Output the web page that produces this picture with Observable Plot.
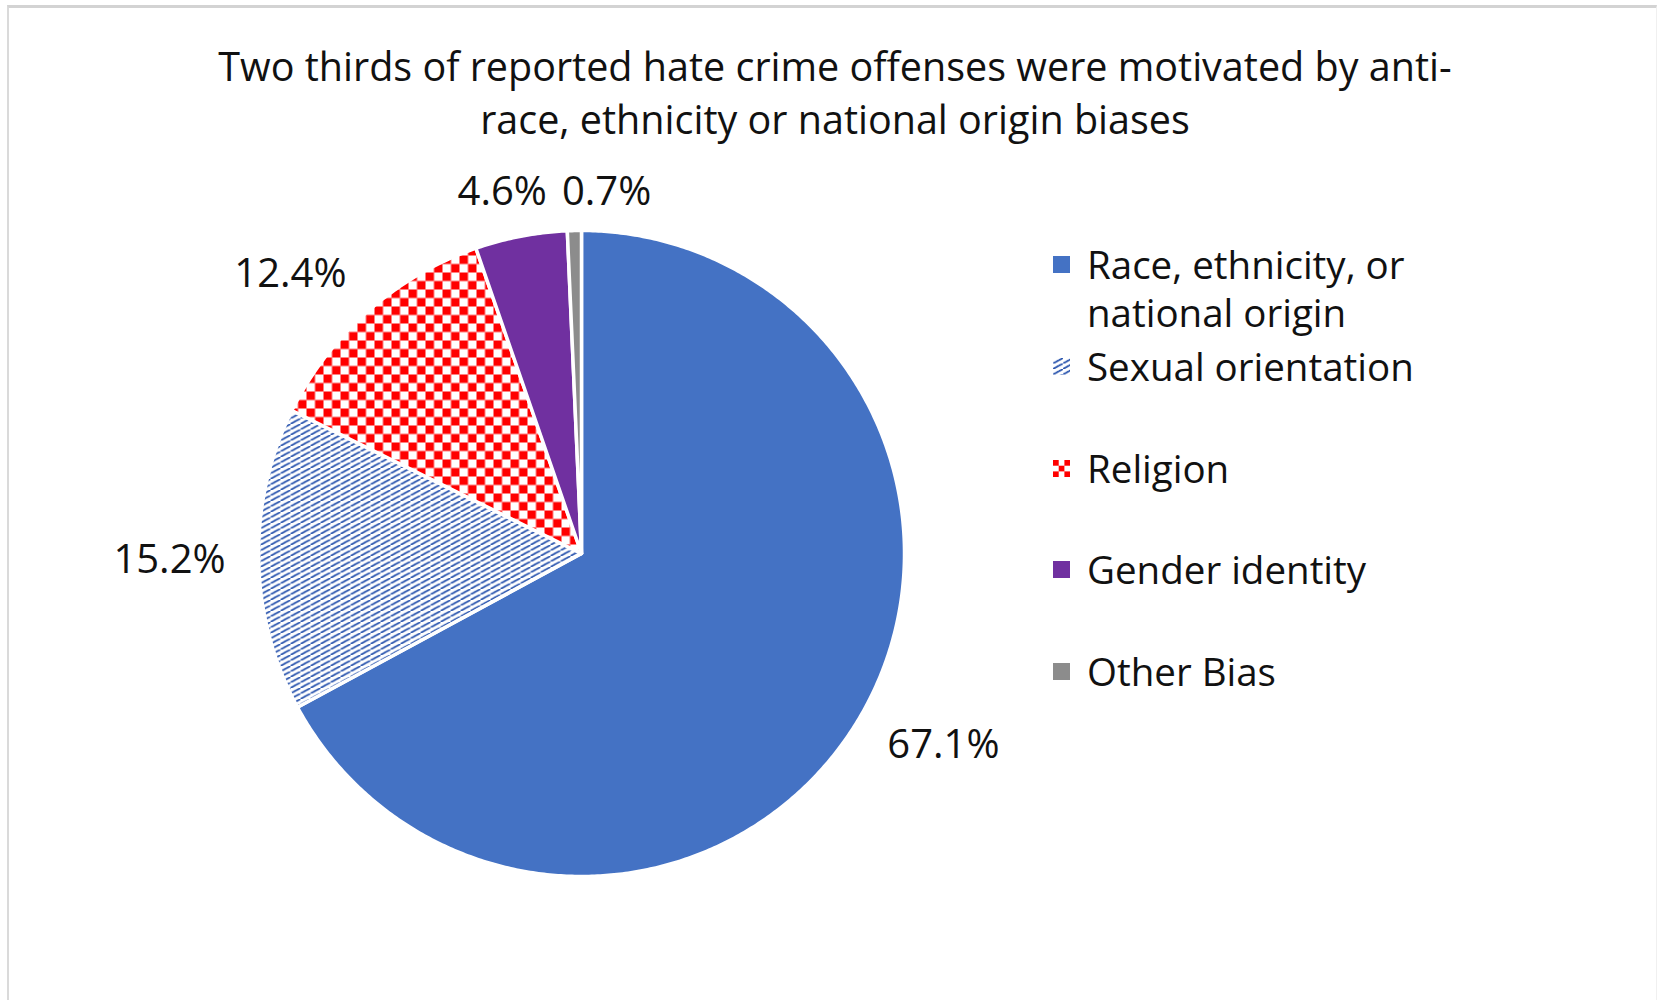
<!DOCTYPE html>
<html>
<head>
<meta charset="utf-8">
<script src="https://cdn.jsdelivr.net/npm/d3@7"></script>
<script src="https://cdn.jsdelivr.net/npm/@observablehq/plot@0.6"></script>
<style>
  html, body { margin: 0; padding: 0; background: #fff; }
  #page { position: relative; width: 1663px; height: 1000px; overflow: hidden; font-family: "Open Sans", sans-serif; color: #111; }
  #frame { position: absolute; left: 7px; top: 5px; right: 6px; bottom: -10px; border-top: 3px solid #d3d3d3; border-left: 2px solid #dadada; border-right: 1px solid #f0f0f0; }
  #title { position: absolute; left: 0; width: 1670px; top: 40px; text-align: center; font-size: 39.5px; line-height: 53px; }
  #chart { position: absolute; left: 0; top: 0; }
  .sw { position: absolute; left: 1053px; }
  .line { position: absolute; left: 1087px; font-size: 38.5px; line-height: 44px; white-space: nowrap; }
</style>
</head>
<body>
<div id="page">
  <div id="frame"></div>
  <div id="title">Two thirds of reported hate crime offenses were motivated by anti-<br>race, ethnicity or national origin biases</div>
  <div id="chart"></div>
  <div id="legend"></div>
</div>
<script>
// ---- data ----
const categories = ["Race, ethnicity, or national origin", "Sexual orientation", "Religion", "Gender identity", "Other Bias"];
const values = [67.1, 15.2, 12.4, 4.6, 0.7];
const fills = ["#4472C4", "url(#pat-sexual)", "url(#pat-religion)", "#7030A0", "#8C8C8C"];
const legendFills = ["#4472C4", "url(#pat-sexual)", "url(#pat-religion-small)", "#7030A0", "#8C8C8C"];

// ---- layout ----
const cx = 581, cy = 553, R = 323, visibleR = 321;
const labelSize = 40;
const labelFont = labelSize + "px 'Open Sans'";
const total = d3.sum(values);

// slices as planar polygons in unit coordinates (y down, start at 12 o'clock, clockwise)
let cum = 0;
const slices = values.map((v, i) => {
  const a0 = cum / total * 2 * Math.PI;
  cum += v;
  const a1 = cum / total * 2 * Math.PI;
  const n = Math.max(2, Math.ceil((a1 - a0) / (Math.PI / 360)));
  const ring = [[0, 0]];
  for (let k = 0; k <= n; k++) {
    const t = a0 + (a1 - a0) * k / n;
    ring.push([Math.sin(t), -Math.cos(t)]);
  }
  ring.push([0, 0]);
  return {
    type: "Feature",
    properties: {name: categories[i], value: v, fill: fills[i], mid: (a0 + a1) / 2},
    geometry: {type: "Polygon", coordinates: [ring]}
  };
});

// outside-end labels
const ctx = document.createElement("canvas").getContext("2d");
ctx.font = labelFont;
const gap = 35, hh = 12, pad = 15;
const clamp = v => Math.max(-1, Math.min(1, v));
const labels = slices.map(s => {
  const text = s.properties.value.toFixed(1) + "%";
  const t = s.properties.mid;
  const hw = ctx.measureText(text).width / 2;
  const px = (visibleR + gap) * Math.sin(t) + hw * clamp(1.5 * Math.sin(t));
  const py = -(visibleR + gap) * Math.cos(t) + hh * clamp(-1.5 * Math.cos(t));
  return {text, px, py, hw};
});
// simple collision avoidance: push later labels sideways onto the same row
for (let i = 1; i < labels.length; i++) {
  for (let j = 0; j < i; j++) {
    const a = labels[j], b = labels[i];
    if (Math.abs(a.py - b.py) < 40 && Math.abs(a.px - b.px) < a.hw + b.hw + pad) {
      const dir = b.px >= a.px ? 1 : -1;
      b.px = a.px + dir * (a.hw + b.hw + pad);
      b.py = a.py;
    }
  }
}
labels.forEach(l => { l.x = l.px / R; l.y = l.py / R; });

const projection = d3.geoIdentity().translate([cx, cy]).scale(R);

const plot = Plot.plot({
  width: 1663,
  height: 1000,
  margin: 0,
  projection,
  color: {type: "identity"},
  style: {background: "transparent", overflow: "visible"},
  marks: [
    Plot.geo(slices, {fill: d => d.properties.fill, stroke: "white", strokeWidth: 3.5, strokeLinejoin: "round"}),
    Plot.text(labels, {x: "x", y: "y", text: "text", fontSize: labelSize, fontFamily: "Open Sans", fill: "#111", textAnchor: "middle", lineAnchor: "middle"})
  ]
});

// patterns
const defs = d3.select(plot).insert("defs", ":first-child");
const ps = defs.append("pattern").attr("id", "pat-sexual").attr("patternUnits", "userSpaceOnUse")
  .attr("width", 10).attr("height", 5.5);
ps.append("rect").attr("width", 10).attr("height", 5.5).attr("fill", "white");
ps.append("path").attr("d", "M-10,11 L10,0 M0,5.5 L10,0 M0,5.5 L20,-5.5")
  .attr("stroke", "#2E58B0").attr("stroke-width", 1.8).attr("stroke-dasharray", "2.2,0.9").attr("fill", "none");
const pr = defs.append("pattern").attr("id", "pat-religion").attr("patternUnits", "userSpaceOnUse")
  .attr("width", 17).attr("height", 17);
pr.append("rect").attr("width", 17).attr("height", 17).attr("fill", "white");
pr.append("rect").attr("width", 8.5).attr("height", 8.5).attr("fill", "#FF0000");
pr.append("rect").attr("x", 8.5).attr("y", 8.5).attr("width", 8.5).attr("height", 8.5).attr("fill", "#FF0000");
const prs = defs.append("pattern").attr("id", "pat-religion-small").attr("patternUnits", "userSpaceOnUse")
  .attr("width", 11.4).attr("height", 11.4);
prs.append("rect").attr("width", 11.4).attr("height", 11.4).attr("fill", "white");
prs.append("rect").attr("width", 5.7).attr("height", 5.7).attr("fill", "#FF0000");
prs.append("rect").attr("x", 5.7).attr("y", 5.7).attr("width", 5.7).attr("height", 5.7).attr("fill", "#FF0000");

document.getElementById("chart").appendChild(plot);

// legend (wrapped at a max width, each line its own box)
const legendCtx = document.createElement("canvas").getContext("2d");
legendCtx.font = "38.5px 'Open Sans'";
const maxW = 345;
function wrap(text) {
  const words = text.split(" ");
  const lines = [];
  let cur = "";
  for (const w of words) {
    const test = cur ? cur + " " + w : w;
    if (cur && legendCtx.measureText(test).width > maxW) { lines.push(cur); cur = w; }
    else cur = test;
  }
  if (cur) lines.push(cur);
  return lines;
}
const legend = d3.select("#legend");
const firstCenter = 263, step = 101.8, lineStep = 48;
categories.forEach((c, i) => {
  const center = firstCenter + i * step;
  legend.append("svg").attr("class", "sw").attr("width", 17).attr("height", 17)
    .style("top", (center - 7) + "px")
    .append("rect").attr("width", 17).attr("height", 17).attr("fill", legendFills[i]);
  wrap(c).forEach((ln, k) => {
    legend.append("div").attr("class", "line")
      .style("top", (center + k * lineStep - 22 + 1) + "px")
      .text(ln);
  });
});
</script>
</body>
</html>
